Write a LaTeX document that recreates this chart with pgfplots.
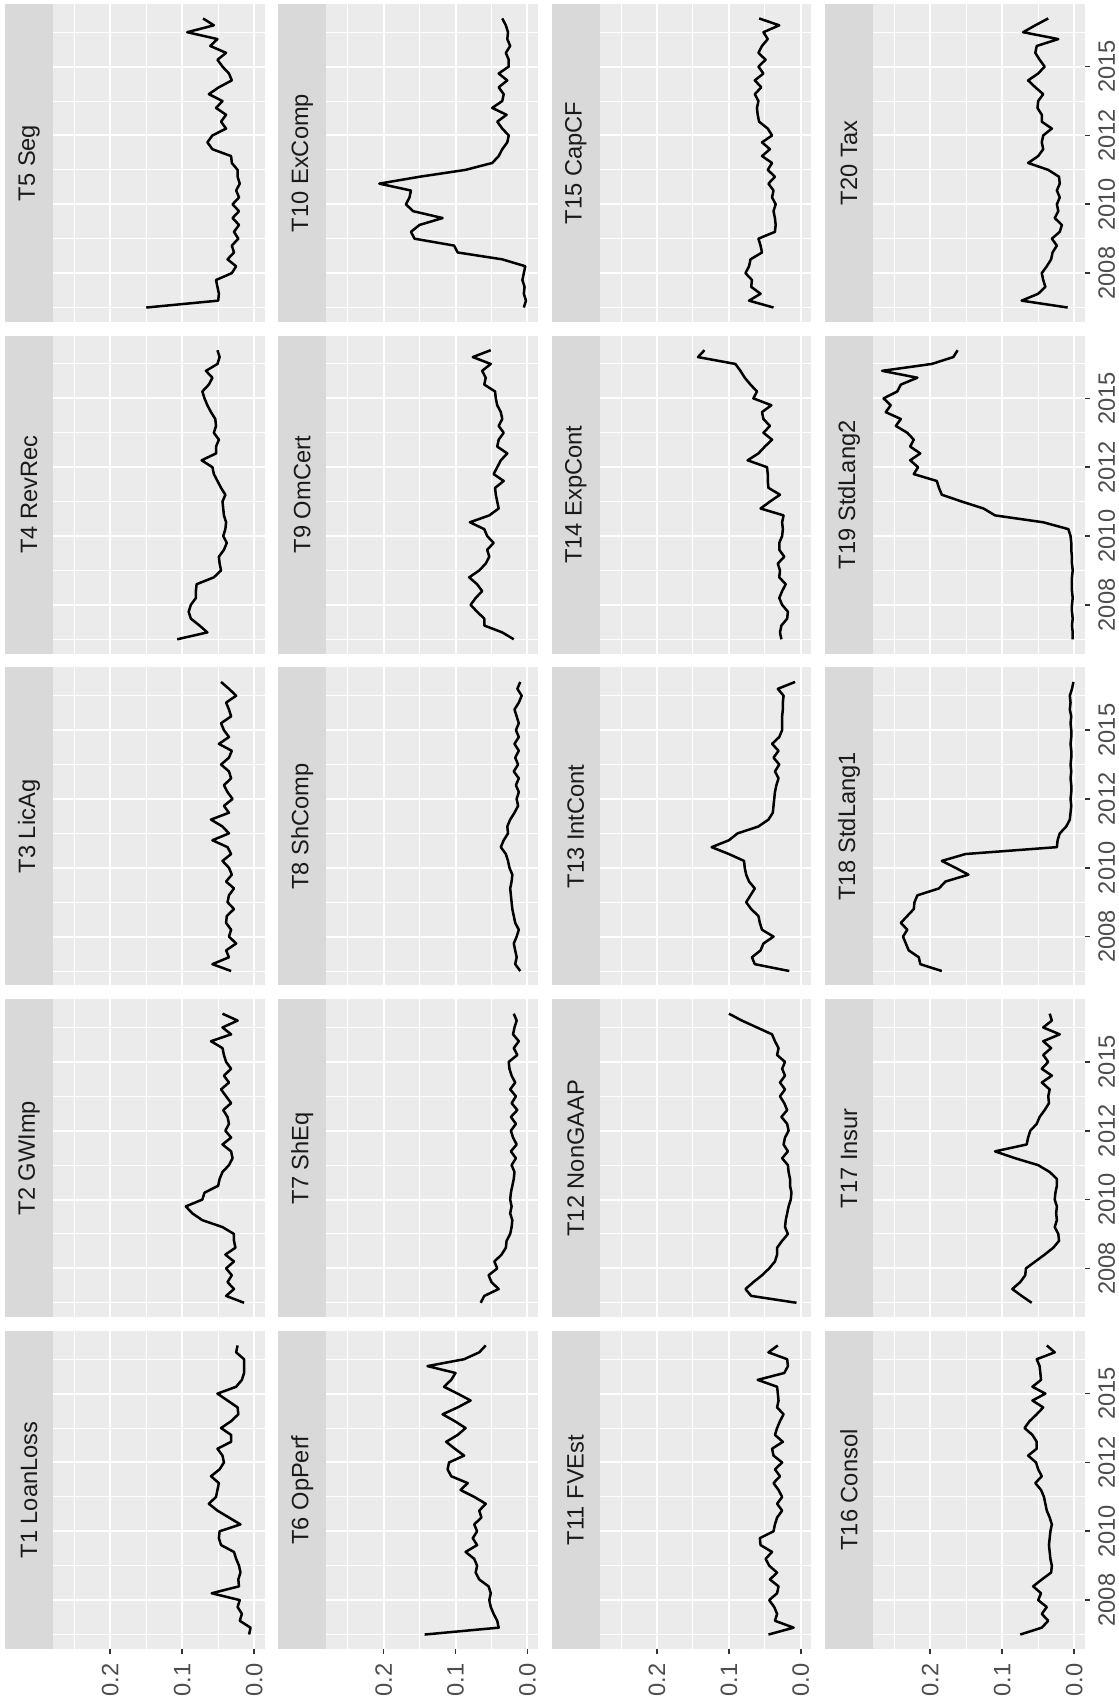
\documentclass[border=0pt]{standalone}
\usepackage{pgfplots}
\pgfplotsset{compat=1.18}
\usepackage{pgfplotstable}
\usepackage{fontspec}
\setmainfont{Liberation Sans}
\definecolor{panelbg}{HTML}{EBEBEB}
\definecolor{stripbg}{HTML}{D9D9D9}
\definecolor{striptext}{HTML}{1A1A1A}
\definecolor{ticklab}{HTML}{4D4D4D}
\definecolor{tickcol}{HTML}{333333}

\pgfplotstableread{
t T1 T2 T3 T4 T5 T6 T7 T8 T9 T10 T11 T12 T13 T14 T15 T16 T17 T18 T19 T20
2006.25 0.007 0.014 0.032 0.107 0.150 0.143 0.065 0.010 0.019 0.005 0.045 0.006 0.016 0.027 0.038 0.075 0.059 0.184 0.002 0.009
2006.50 0.005 0.039 0.058 0.065 0.050 0.040 0.060 0.017 0.035 0.002 0.010 0.069 0.064 0.029 0.072 0.045 0.073 0.214 0.002 0.073
2006.75 0.020 0.028 0.035 0.076 0.049 0.042 0.040 0.015 0.060 0.005 0.036 0.077 0.068 0.027 0.056 0.036 0.086 0.216 0.003 0.050
2007.00 0.017 0.037 0.039 0.088 0.051 0.047 0.050 0.017 0.060 0.004 0.033 0.066 0.056 0.019 0.069 0.045 0.075 0.230 0.002 0.040
2007.25 0.023 0.031 0.025 0.091 0.053 0.051 0.054 0.019 0.070 0.007 0.037 0.054 0.052 0.018 0.068 0.038 0.068 0.234 0.003 0.043
2007.50 0.020 0.039 0.035 0.088 0.031 0.053 0.042 0.015 0.079 0.005 0.044 0.044 0.038 0.026 0.077 0.050 0.067 0.238 0.003 0.045
2007.75 0.059 0.028 0.032 0.081 0.025 0.051 0.046 0.012 0.072 0.003 0.033 0.036 0.054 0.030 0.072 0.046 0.054 0.232 0.002 0.038
2008.00 0.021 0.040 0.039 0.081 0.037 0.054 0.036 0.017 0.063 0.035 0.031 0.033 0.057 0.026 0.070 0.057 0.041 0.241 0.003 0.032
2008.25 0.022 0.026 0.038 0.080 0.028 0.067 0.030 0.019 0.070 0.097 0.043 0.033 0.059 0.021 0.054 0.045 0.029 0.232 0.003 0.030
2008.50 0.019 0.028 0.028 0.056 0.031 0.072 0.029 0.021 0.081 0.102 0.033 0.026 0.069 0.030 0.056 0.032 0.021 0.223 0.003 0.024
2008.75 0.021 0.028 0.037 0.046 0.022 0.070 0.024 0.022 0.067 0.157 0.044 0.018 0.076 0.029 0.059 0.031 0.022 0.222 0.002 0.031
2009.00 0.025 0.044 0.035 0.048 0.028 0.074 0.022 0.023 0.058 0.162 0.049 0.022 0.070 0.032 0.036 0.033 0.027 0.218 0.003 0.020
2009.25 0.028 0.072 0.028 0.049 0.021 0.086 0.021 0.024 0.053 0.150 0.040 0.021 0.064 0.023 0.035 0.034 0.024 0.188 0.003 0.017
2009.50 0.046 0.086 0.039 0.042 0.030 0.070 0.024 0.022 0.056 0.118 0.056 0.019 0.072 0.030 0.036 0.035 0.025 0.179 0.004 0.027
2009.75 0.049 0.095 0.031 0.038 0.021 0.076 0.022 0.021 0.047 0.159 0.057 0.017 0.076 0.030 0.038 0.034 0.024 0.147 0.004 0.022
2010.00 0.048 0.072 0.035 0.043 0.030 0.070 0.024 0.025 0.056 0.169 0.038 0.014 0.078 0.026 0.035 0.033 0.027 0.165 0.005 0.024
2010.25 0.019 0.069 0.044 0.040 0.021 0.074 0.023 0.027 0.060 0.164 0.036 0.013 0.079 0.025 0.040 0.031 0.026 0.184 0.008 0.020
2010.50 0.035 0.050 0.032 0.039 0.025 0.064 0.021 0.030 0.080 0.162 0.033 0.015 0.100 0.026 0.038 0.034 0.024 0.151 0.043 0.024
2010.75 0.051 0.048 0.037 0.042 0.020 0.067 0.019 0.037 0.053 0.206 0.026 0.015 0.124 0.024 0.045 0.038 0.024 0.024 0.110 0.020
2011.00 0.063 0.044 0.058 0.043 0.023 0.058 0.018 0.033 0.040 0.150 0.033 0.017 0.100 0.056 0.036 0.040 0.034 0.023 0.126 0.021
2011.25 0.053 0.035 0.035 0.044 0.023 0.074 0.022 0.027 0.042 0.086 0.026 0.018 0.088 0.043 0.046 0.042 0.050 0.020 0.156 0.036
2011.50 0.051 0.030 0.044 0.040 0.031 0.093 0.016 0.028 0.044 0.049 0.031 0.026 0.059 0.029 0.040 0.046 0.082 0.011 0.184 0.064
2011.75 0.049 0.032 0.060 0.046 0.032 0.083 0.023 0.024 0.045 0.040 0.038 0.018 0.045 0.045 0.054 0.054 0.110 0.006 0.188 0.050
2012.00 0.060 0.044 0.035 0.051 0.058 0.106 0.015 0.018 0.033 0.035 0.029 0.024 0.039 0.046 0.043 0.045 0.066 0.005 0.191 0.043
2012.25 0.048 0.032 0.042 0.056 0.065 0.111 0.020 0.013 0.047 0.028 0.036 0.022 0.038 0.046 0.054 0.050 0.064 0.004 0.223 0.045
2012.50 0.042 0.040 0.030 0.058 0.058 0.109 0.023 0.015 0.042 0.026 0.026 0.017 0.037 0.047 0.040 0.053 0.061 0.005 0.217 0.043
2012.75 0.044 0.035 0.037 0.073 0.039 0.088 0.016 0.012 0.037 0.035 0.038 0.019 0.036 0.074 0.046 0.064 0.052 0.004 0.228 0.031
2013.00 0.051 0.037 0.042 0.053 0.046 0.101 0.023 0.016 0.028 0.042 0.040 0.027 0.034 0.059 0.058 0.052 0.048 0.004 0.214 0.045
2013.25 0.032 0.043 0.032 0.053 0.039 0.113 0.014 0.012 0.042 0.029 0.025 0.019 0.031 0.050 0.060 0.052 0.041 0.005 0.228 0.045
2013.50 0.032 0.032 0.035 0.049 0.053 0.097 0.022 0.019 0.040 0.049 0.036 0.023 0.036 0.040 0.061 0.058 0.035 0.004 0.223 0.051
2013.75 0.046 0.039 0.046 0.056 0.044 0.086 0.016 0.013 0.033 0.035 0.033 0.029 0.030 0.052 0.059 0.069 0.036 0.005 0.232 0.050
2014.00 0.032 0.046 0.035 0.053 0.063 0.101 0.024 0.017 0.040 0.033 0.029 0.022 0.038 0.043 0.064 0.062 0.034 0.004 0.248 0.043
2014.25 0.022 0.035 0.031 0.054 0.049 0.118 0.017 0.012 0.035 0.040 0.024 0.029 0.031 0.052 0.055 0.052 0.045 0.004 0.241 0.054
2014.50 0.023 0.042 0.049 0.060 0.031 0.097 0.022 0.018 0.037 0.028 0.033 0.022 0.040 0.054 0.064 0.043 0.031 0.005 0.262 0.064
2014.75 0.037 0.032 0.035 0.065 0.035 0.079 0.025 0.012 0.042 0.040 0.031 0.026 0.030 0.041 0.052 0.058 0.045 0.004 0.255 0.050
2015.00 0.051 0.039 0.042 0.069 0.044 0.097 0.026 0.016 0.044 0.026 0.032 0.022 0.026 0.066 0.059 0.040 0.036 0.004 0.265 0.041
2015.25 0.025 0.042 0.046 0.072 0.051 0.116 0.014 0.012 0.045 0.026 0.033 0.033 0.026 0.061 0.049 0.058 0.043 0.005 0.246 0.048
2015.50 0.017 0.044 0.032 0.063 0.039 0.106 0.019 0.015 0.060 0.030 0.060 0.031 0.026 0.070 0.059 0.046 0.032 0.004 0.241 0.054
2015.75 0.014 0.060 0.035 0.058 0.061 0.100 0.012 0.018 0.058 0.024 0.023 0.036 0.025 0.078 0.054 0.047 0.043 0.006 0.218 0.052
2016.00 0.014 0.032 0.039 0.067 0.051 0.139 0.020 0.012 0.063 0.028 0.018 0.040 0.025 0.084 0.046 0.048 0.020 0.005 0.267 0.022
2016.25 0.014 0.044 0.025 0.051 0.093 0.088 0.018 0.008 0.051 0.027 0.019 0.061 0.024 0.091 0.052 0.052 0.043 0.006 0.198 0.071
2016.50 0.025 0.023 0.035 0.048 0.056 0.067 0.015 0.014 0.076 0.030 0.045 0.082 0.032 0.143 0.030 0.027 0.031 0.003 0.168 0.054
2016.75 0.023 0.044 0.046 0.051 0.071 0.058 0.019 0.010 0.051 0.035 0.032 0.100 0.008 0.134 0.058 0.038 0.034 0.001 0.162 0.036
}\data

\pgfplotsset{
  panel/.style={
    scale only axis, width=63.51pt, height=95.4pt, anchor=center,
    x dir=reverse, xmin=-0.0147, xmax=0.2797, ymin=2005.725, ymax=2017.275,
    axis background/.style={fill=panelbg},
    axis line style={draw=none},
    xtick={0,0.1,0.2}, minor xtick={0.05,0.15,0.25},
    ytick={2007.5,2010,2012.5,2015},
    minor ytick={2006.25,2008.75,2011.25,2013.75,2016.25},
    xmajorgrids, ymajorgrids, xminorgrids, yminorgrids,
    major grid style={white, line width=0.6pt},
    minor grid style={white, line width=0.3pt},
    major tick length=0pt, minor tick length=0pt,
    xticklabels={}, yticklabels={},
    tick align=outside,
    xtick style={draw=none}, ytick style={draw=none},
  },
  bottomrow/.style={
    major tick length=1.5pt,
    xtick pos=left, xticklabel pos=left,
    xticklabels={0.0,0.1,0.2},
    xtick style={draw=tickcol, line width=0.5pt},
    x tick label style={rotate=90, anchor=east, inner sep=0pt,
      font=\fontsize{7.1}{8}\selectfont, text=ticklab},
    xticklabel shift=2.7pt,
  },
  rightcol/.style={
    major tick length=1.5pt,
    ytick pos=right, yticklabel pos=right,
    yticklabels={2008,2010,2012,2015},
    ytick style={draw=tickcol, line width=0.5pt},
    y tick label style={rotate=90, anchor=north, inner sep=0pt,
      font=\fontsize{7.1}{8}\selectfont, text=ticklab},
    yticklabel shift=2.4pt,
  },
  dataline/.style={black, line width=0.75pt, line join=round, no marks},
}

\begin{document}
\begin{tikzpicture}
\useasboundingbox (0,0) rectangle (335.4pt,511.5pt);
\fill[white] (0,0) rectangle (335.4pt,511.5pt);

% strips
\foreach \sx/\sy/\lab in {
  8.7/64.5/T1 LoanLoss, 8.7/164.025/T2 GWImp, 8.7/263.55/T3 LicAg, 8.7/363.075/T4 RevRec, 8.7/462.6/T5 Seg,
  90.69/64.5/T6 OpPerf, 90.69/164.025/T7 ShEq, 90.69/263.55/T8 ShComp, 90.69/363.075/T9 OmCert, 90.69/462.6/T10 ExComp,
  172.71/64.5/T11 FVEst, 172.71/164.025/T12 NonGAAP, 172.71/263.55/T13 IntCont, 172.71/363.075/T14 ExpCont, 172.71/462.6/T15 CapCF,
  254.7/64.5/T16 Consol, 254.7/164.025/T17 Insur, 254.7/263.55/T18 StdLang1, 254.7/363.075/T19 StdLang2, 254.7/462.6/T20 Tax}
{
  \node[rotate=90, fill=stripbg, minimum width=95.4pt, minimum height=14.4pt, inner sep=0pt,
        text=striptext, font=\fontsize{7.1}{8}\selectfont] at (\sx pt,\sy pt) {\lab};
}

% column 1
\begin{axis}[panel, bottomrow, at={(47.655pt,64.5pt)}]
\addplot[dataline] table[x=T1,y=t]{\data};
\end{axis}
\begin{axis}[panel, at={(47.655pt,164.025pt)}]
\addplot[dataline] table[x=T2,y=t]{\data};
\end{axis}
\begin{axis}[panel, at={(47.655pt,263.55pt)}]
\addplot[dataline] table[x=T3,y=t]{\data};
\end{axis}
\begin{axis}[panel, at={(47.655pt,363.075pt)}]
\addplot[dataline] table[x=T4,y=t]{\data};
\end{axis}
\begin{axis}[panel, at={(47.655pt,462.6pt)}]
\addplot[dataline] table[x=T5,y=t]{\data};
\end{axis}

% column 2
\begin{axis}[panel, bottomrow, at={(129.645pt,64.5pt)}]
\addplot[dataline] table[x=T6,y=t]{\data};
\end{axis}
\begin{axis}[panel, at={(129.645pt,164.025pt)}]
\addplot[dataline] table[x=T7,y=t]{\data};
\end{axis}
\begin{axis}[panel, at={(129.645pt,263.55pt)}]
\addplot[dataline] table[x=T8,y=t]{\data};
\end{axis}
\begin{axis}[panel, at={(129.645pt,363.075pt)}]
\addplot[dataline] table[x=T9,y=t]{\data};
\end{axis}
\begin{axis}[panel, at={(129.645pt,462.6pt)}]
\addplot[dataline] table[x=T10,y=t]{\data};
\end{axis}

% column 3
\begin{axis}[panel, bottomrow, at={(211.665pt,64.5pt)}]
\addplot[dataline] table[x=T11,y=t]{\data};
\end{axis}
\begin{axis}[panel, at={(211.665pt,164.025pt)}]
\addplot[dataline] table[x=T12,y=t]{\data};
\end{axis}
\begin{axis}[panel, at={(211.665pt,263.55pt)}]
\addplot[dataline] table[x=T13,y=t]{\data};
\end{axis}
\begin{axis}[panel, at={(211.665pt,363.075pt)}]
\addplot[dataline] table[x=T14,y=t]{\data};
\end{axis}
\begin{axis}[panel, at={(211.665pt,462.6pt)}]
\addplot[dataline] table[x=T15,y=t]{\data};
\end{axis}

% column 4
\begin{axis}[panel, bottomrow, rightcol, at={(293.655pt,64.5pt)}]
\addplot[dataline] table[x=T16,y=t]{\data};
\end{axis}
\begin{axis}[panel, rightcol, at={(293.655pt,164.025pt)}]
\addplot[dataline] table[x=T17,y=t]{\data};
\end{axis}
\begin{axis}[panel, rightcol, at={(293.655pt,263.55pt)}]
\addplot[dataline] table[x=T18,y=t]{\data};
\end{axis}
\begin{axis}[panel, rightcol, at={(293.655pt,363.075pt)}]
\addplot[dataline] table[x=T19,y=t]{\data};
\end{axis}
\begin{axis}[panel, rightcol, at={(293.655pt,462.6pt)}]
\addplot[dataline] table[x=T20,y=t]{\data};
\end{axis}
\end{tikzpicture}
\end{document}
